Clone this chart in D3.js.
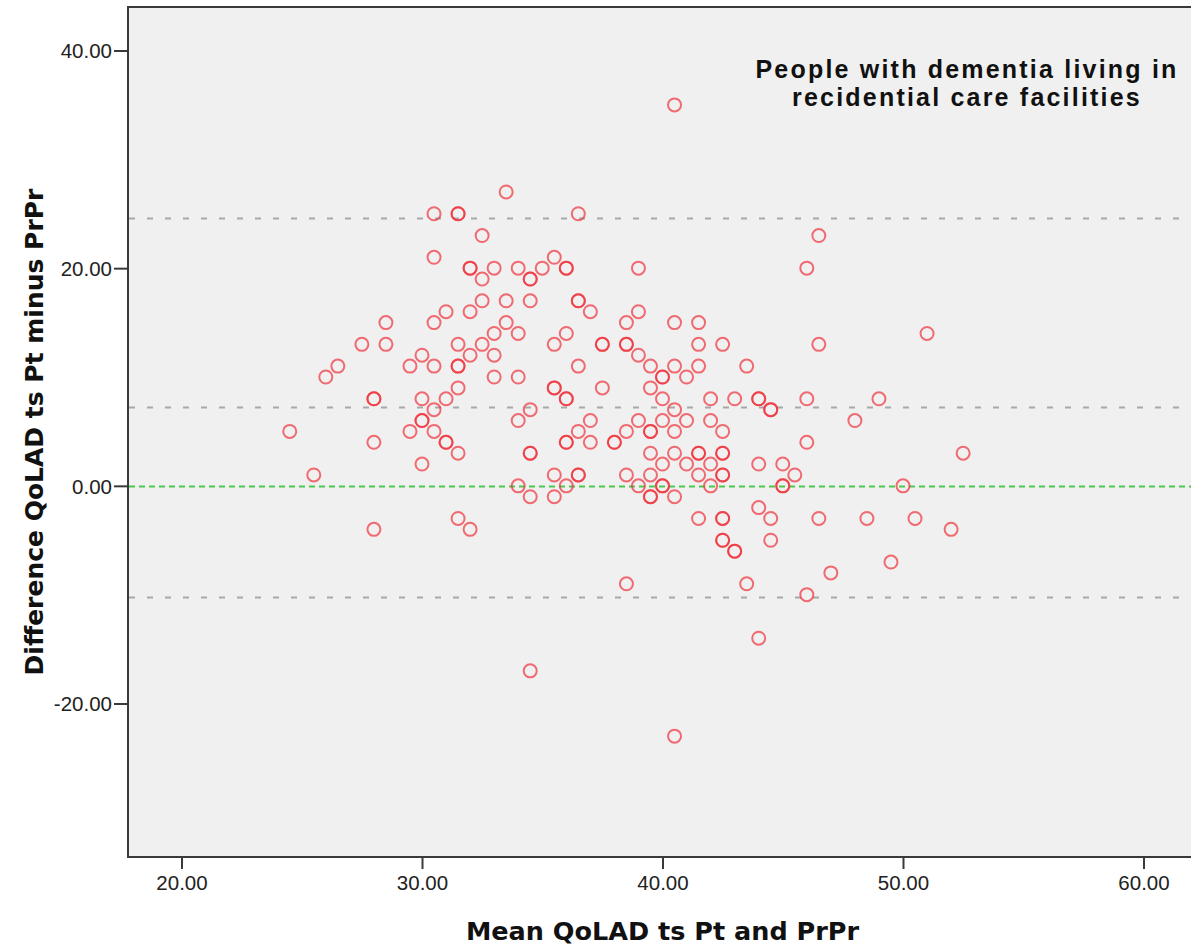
<!DOCTYPE html>
<html>
<head>
<meta charset="utf-8">
<script src="https://cdn.jsdelivr.net/npm/d3@7"></script>
<style>
  body { margin: 0; background: #ffffff; }
  svg { display: block; }
</style>
</head>
<body>
<div id="chart"></div>
<script>
// Bland-Altman values, one entry per circle
// (points that are drawn twice are the darker, overlapping circles)
var meanVals = [
  24.5, 25.5, 26, 26.5, 27.5, 28, 28, 28, 28, 28.5, 28.5, 29.5, 29.5,
  30, 30, 30, 30, 30, 30.5, 30.5, 30.5, 30.5, 30.5, 30.5,
  31, 31, 31, 31, 31.5, 31.5, 31.5, 31.5, 31.5, 31.5, 31.5, 31.5,
  32, 32, 32, 32, 32, 32.5, 32.5, 32.5, 32.5, 33, 33, 33, 33,
  33.5, 33.5, 33.5, 34, 34, 34, 34, 34,
  34.5, 34.5, 34.5, 34.5, 34.5, 34.5, 34.5, 34.5, 35,
  35.5, 35.5, 35.5, 35.5, 35.5, 35.5,
  36, 36, 36, 36, 36, 36, 36, 36,
  36.5, 36.5, 36.5, 36.5, 36.5, 36.5, 36.5, 37, 37, 37,
  37.5, 37.5, 37.5, 38, 38, 38.5, 38.5, 38.5, 38.5, 38.5, 38.5,
  39, 39, 39, 39, 39, 39.5, 39.5, 39.5, 39.5, 39.5, 39.5, 39.5, 39.5,
  40, 40, 40, 40, 40, 40, 40,
  40.5, 40.5, 40.5, 40.5, 40.5, 40.5, 40.5, 40.5, 41, 41, 41,
  41.5, 41.5, 41.5, 41.5, 41.5, 41.5, 41.5, 42, 42, 42, 42,
  42.5, 42.5, 42.5, 42.5, 42.5, 42.5, 42.5, 42.5, 42.5, 42.5,
  43, 43, 43, 43.5, 43.5, 44, 44, 44, 44, 44,
  44.5, 44.5, 44.5, 44.5, 45, 45, 45, 45.5,
  46, 46, 46, 46, 46.5, 46.5, 46.5, 47, 48, 48.5, 49, 49.5, 50, 50.5, 51, 52, 52.5
];
var diffVals = [
  5, 1, 10, 11, 13, 8, 8, 4, -4, 15, 13, 11, 5,
  12, 8, 6, 6, 2, 25, 21, 15, 11, 7, 5,
  16, 8, 4, 4, 25, 25, 13, 11, 11, 9, 3, -3,
  20, 20, 16, 12, -4, 23, 19, 17, 13, 20, 14, 12, 10,
  27, 17, 15, 20, 14, 10, 6, 0,
  19, 19, 17, 7, 3, 3, -1, -17, 20,
  21, 13, 9, 9, 1, -1,
  20, 20, 14, 8, 8, 4, 4, 0,
  25, 17, 17, 11, 5, 1, 1, 16, 6, 4,
  13, 13, 9, 4, 4, 15, 13, 13, 5, 1, -9,
  20, 16, 12, 6, 0, 11, 9, 5, 5, 3, 1, -1, -1,
  10, 10, 8, 6, 2, 0, 0,
  35, 15, 11, 7, 5, 3, -1, -23, 10, 6, 2,
  15, 13, 11, 3, 3, 1, -3, 8, 6, 2, 0,
  13, 5, 3, 3, 1, 1, -3, -3, -5, -5,
  8, -6, -6, 11, -9, 8, 8, 2, -2, -14,
  7, 7, -3, -5, 2, 0, 0, 1,
  20, 8, 4, -10, 23, 13, -3, -8, 6, -3, 8, -7, 0, -3, 14, -4, 3
];

// mean difference and limits of agreement, plus the zero line
var limitLines = [24.6, 7.2, -10.2];
var zeroLine = 0;

var xTicks = [20, 30, 40, 50, 60];
var yTicks = [40, 20, 0, -20];

var titleLines = ["People with dementia living in", "recidential care facilities"];
var xTitle = "Mean QoLAD ts Pt and PrPr";
var yTitle = "Difference QoLAD ts Pt minus PrPr";

var width = 1191,
    height = 945;

// the plot frame, its right edge runs just past the window
var frame = {left: 128, top: 7, right: 1197, bottom: 857};

var svg = d3.select("#chart")
  .append("svg")
  .attr("width", width)
  .attr("height", height);

var x = d3.scaleLinear()
  .domain([20, 60])
  .range([181.5, 1143.5]);

var y = d3.scaleLinear()
  .domain([40, -20])
  .range([50.5, 703.5]);

// SPSS style labels, plain hyphen for the minus sign
var fmt = function(d) { return d3.format(".2f")(d).replace("\u2212", "-"); };

// grey plot background
svg.append("rect")
  .attr("x", frame.left)
  .attr("y", frame.top)
  .attr("width", frame.right - frame.left)
  .attr("height", frame.bottom - frame.top)
  .attr("fill", "#f0f0f0")
  .attr("stroke", "#3a3a3a")
  .attr("stroke-width", 2);

// dashed reference lines
svg.selectAll(".limit")
  .data(limitLines)
  .enter()
  .append("line")
  .attr("class", "limit")
  .attr("x1", frame.left + 1)
  .attr("x2", frame.right)
  .attr("y1", function(d) { return Math.round(y(d)) + 0.5; })
  .attr("y2", function(d) { return Math.round(y(d)) + 0.5; })
  .attr("stroke", "#a8a8a8")
  .attr("stroke-width", 2)
  .attr("stroke-dasharray", "6,12");

svg.append("line")
  .attr("x1", frame.left + 1)
  .attr("x2", frame.right)
  .attr("y1", Math.round(y(zeroLine)) + 0.5)
  .attr("y2", Math.round(y(zeroLine)) + 0.5)
  .attr("stroke", "#4cc84c")
  .attr("stroke-width", 2)
  .attr("stroke-dasharray", "6,4");

// the points
svg.selectAll(".pt")
  .data(meanVals)
  .enter()
  .append("circle")
  .attr("class", "pt")
  .attr("cx", function(d) { return x(d); })
  .attr("cy", function(d, i) { return y(diffVals[i]); })
  .attr("r", 6.5)
  .attr("fill", "none")
  .attr("stroke", "#f0303a")
  .attr("stroke-opacity", 0.7)
  .attr("stroke-width", 2);

// axes
var xAxis = svg.append("g")
  .attr("transform", "translate(0," + frame.bottom + ")")
  .call(d3.axisBottom(x).tickValues(xTicks).tickSize(12).tickPadding(6)
    .tickFormat(fmt));

var yAxis = svg.append("g")
  .attr("transform", "translate(" + frame.left + ",0)")
  .call(d3.axisLeft(y).tickValues(yTicks).tickSize(14).tickPadding(2)
    .tickFormat(fmt));

[xAxis, yAxis].forEach(function(g) {
  g.select(".domain").remove();
  g.selectAll("line").attr("stroke", "#3a3a3a").attr("stroke-width", 2);
  g.selectAll("text")
    .attr("fill", "#222")
    .style("font-family", "'Liberation Sans', Arial, sans-serif")
    .style("font-size", "20.5px");
});
yAxis.selectAll("text").attr("dy", "0.35em");

// axis titles
svg.append("text")
  .attr("x", (frame.left + frame.right) / 2)
  .attr("y", 940)
  .attr("text-anchor", "middle")
  .style("font-family", "'DejaVu Sans', sans-serif")
  .style("font-weight", "bold")
  .style("font-size", "25.5px")
  .attr("fill", "#111")
  .text(xTitle);

svg.append("text")
  .attr("transform", "translate(43," + (frame.top + frame.bottom) / 2 + ") rotate(-90)")
  .attr("text-anchor", "middle")
  .style("font-family", "'DejaVu Sans', sans-serif")
  .style("font-weight", "bold")
  .style("font-size", "25px")
  .attr("fill", "#111")
  .text(yTitle);

// the title inside the plot
svg.selectAll(".title")
  .data(titleLines)
  .enter()
  .append("text")
  .attr("class", "title")
  .attr("x", 967)
  .attr("y", function(d, i) { return 78 + i * 28; })
  .attr("text-anchor", "middle")
  .style("font-family", "'Liberation Sans', Arial, sans-serif")
  .style("font-weight", "bold")
  .style("font-size", "25px")
  .style("letter-spacing", "2.2px")
  .attr("fill", "#111")
  .text(function(d) { return d; });
</script>
</body>
</html>
